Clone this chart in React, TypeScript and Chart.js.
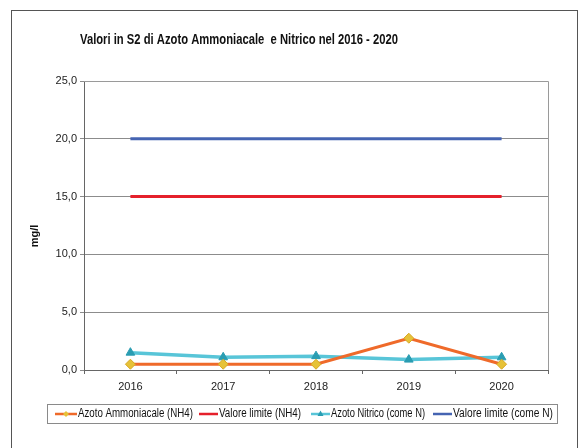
import React, { useEffect, useRef } from "react";
import { Chart, registerables } from "chart.js";

Chart.register(...registerables);

const categories = ["2016", "2017", "2018", "2019", "2020"];
const azotoAmmoniacale = [0.5, 0.5, 0.5, 2.75, 0.5];
const limiteNH4 = [15, 15, 15, 15, 15];
const azotoNitrico = [1.5, 1.1, 1.2, 0.9, 1.1];
const limiteN = [20, 20, 20, 20, 20];
const seriesNames = [
  "Azoto Ammoniacale (NH4)",
  "Valore limite (NH4)",
  "Azoto Nitrico (come N)",
  "Valore limite (come N)",
];
const titleText = "Valori in S2 di Azoto Ammoniacale  e Nitrico nel 2016 - 2020";
const yTitle = "mg/l";
const yMin = 0;
const yMax = 25;
const yStep = 5;

const FONT = '"Liberation Sans", Arial, sans-serif';
const C_ORANGE = "#EF6A2A";
const C_YELLOW = "#E6C238";
const C_RED = "#E5202B";
const C_CYAN = "#58C5D8";
const C_TEAL = "#2A9DB2";
const C_BLUE = "#4564B2";

export default function App() {
  const ref = useRef<HTMLCanvasElement | null>(null);

  useEffect(() => {
    const canvas = ref.current;
    if (!canvas) return;

    const decor = {
      id: "decor",
      beforeDraw(chart: any) {
        const ctx = chart.ctx;
        ctx.save();
        ctx.fillStyle = "#ffffff";
        ctx.fillRect(0, 0, chart.width, chart.height);
        ctx.strokeStyle = "#555555";
        ctx.lineWidth = 1;
        ctx.strokeRect(11.5, 10.5, 566, 460);
        ctx.restore();
      },
      beforeDatasetsDraw(chart: any) {
        const ctx = chart.ctx;
        const a = chart.chartArea;
        ctx.save();
        ctx.strokeStyle = "#9a9a9a";
        ctx.lineWidth = 1;
        ctx.beginPath();
        ctx.moveTo(a.left, Math.round(a.top) + 0.5);
        ctx.lineTo(Math.round(a.right) + 0.5, Math.round(a.top) + 0.5);
        ctx.lineTo(Math.round(a.right) + 0.5, a.bottom);
        ctx.stroke();
        ctx.restore();
      },
      afterDraw(chart: any) {
        const ctx = chart.ctx;
        ctx.save();
        // title
        ctx.fillStyle = "#111111";
        ctx.font = `bold 15px ${FONT}`;
        ctx.textBaseline = "middle";
        ctx.textAlign = "left";
        ctx.fillText(titleText, 80, 40, 318);
        // y title
        ctx.save();
        ctx.translate(35, 236);
        ctx.rotate(-Math.PI / 2);
        ctx.textAlign = "center";
        ctx.font = `bold 11px ${FONT}`;
        ctx.fillText(yTitle, 0, 0);
        ctx.restore();
        // legend box
        ctx.fillStyle = "#ffffff";
        ctx.fillRect(47, 404, 510, 19);
        ctx.strokeStyle = "#8a8a8a";
        ctx.lineWidth = 1;
        ctx.strokeRect(47.5, 404.5, 510, 19);
        const items = [
          { x0: 55, x1: 77, tx: 78, tw: 115, color: C_ORANGE, marker: "diamond" },
          { x0: 199, x1: 218, tx: 219, tw: 82, color: C_RED, marker: "" },
          { x0: 311, x1: 330, tx: 331, tw: 94, color: C_CYAN, marker: "triangle" },
          { x0: 433, x1: 452, tx: 453, tw: 100, color: C_BLUE, marker: "" },
        ];
        const ly = 414;
        items.forEach((it, i) => {
          ctx.strokeStyle = it.color;
          ctx.lineWidth = 2.5;
          ctx.beginPath();
          ctx.moveTo(it.x0, ly);
          ctx.lineTo(it.x1, ly);
          ctx.stroke();
          const cx = (it.x0 + it.x1) / 2;
          if (it.marker === "diamond") {
            ctx.fillStyle = C_YELLOW;
            ctx.beginPath();
            ctx.moveTo(cx, ly - 3);
            ctx.lineTo(cx + 3, ly);
            ctx.lineTo(cx, ly + 3);
            ctx.lineTo(cx - 3, ly);
            ctx.closePath();
            ctx.fill();
          } else if (it.marker === "triangle") {
            ctx.fillStyle = C_TEAL;
            ctx.beginPath();
            ctx.moveTo(cx, ly - 3.5);
            ctx.lineTo(cx + 3, ly + 2);
            ctx.lineTo(cx - 3, ly + 2);
            ctx.closePath();
            ctx.fill();
          }
          ctx.fillStyle = "#111111";
          ctx.font = `12px ${FONT}`;
          ctx.textAlign = "left";
          ctx.textBaseline = "middle";
          ctx.fillText(seriesNames[i], it.tx, ly, it.tw);
        });
        ctx.restore();
      },
    };

    const chart = new Chart(canvas, {
      type: "line",
      data: {
        labels: categories,
        datasets: [
          {
            label: seriesNames[0],
            data: azotoAmmoniacale,
            borderColor: C_ORANGE,
            borderWidth: 3,
            pointStyle: "rectRot",
            pointRadius: 5,
            pointBackgroundColor: C_YELLOW,
            pointBorderColor: "#D8A826",
            pointBorderWidth: 1,
            order: 1,
          },
          {
            label: seriesNames[1],
            data: limiteNH4,
            borderColor: C_RED,
            borderWidth: 3,
            pointRadius: 0,
            order: 3,
          },
          {
            label: seriesNames[2],
            data: azotoNitrico,
            borderColor: C_CYAN,
            borderWidth: 3.5,
            pointStyle: "triangle",
            pointRadius: 5,
            pointBackgroundColor: C_TEAL,
            pointBorderColor: C_TEAL,
            pointBorderWidth: 1,
            order: 2,
          },
          {
            label: seriesNames[3],
            data: limiteN,
            borderColor: C_BLUE,
            borderWidth: 3,
            pointRadius: 0,
            order: 4,
          },
        ],
      },
      options: {
        responsive: false,
        animation: false,
        layout: { padding: { top: 81, right: 32, left: 0, bottom: 0 } },
        plugins: {
          legend: { display: false },
          title: { display: false },
          tooltip: { enabled: false },
        },
        scales: {
          x: {
            type: "category",
            offset: true,
            grid: {
              drawOnChartArea: false,
              offset: true,
              tickLength: 4,
              color: "#666666",
            },
            border: { color: "#666666", width: 1 },
            ticks: {
              color: "#222222",
              font: { family: FONT, size: 11 },
              padding: 6,
              maxRotation: 0,
            },
            afterFit: (s: any) => {
              s.height = 78;
            },
          },
          y: {
            min: yMin,
            max: yMax,
            grid: { color: "#8c8c8c", tickLength: 4 },
            border: { color: "#666666", width: 1 },
            ticks: {
              stepSize: yStep,
              color: "#222222",
              font: { family: FONT, size: 11 },
              padding: 3,
              callback: (v: any) => Number(v).toFixed(1).replace(".", ","),
            },
            afterFit: (s: any) => {
              s.width = 84;
            },
          },
        },
      },
      plugins: [decor],
    });

    return () => chart.destroy();
  }, []);

  return (
    <div style={{ position: "fixed", left: 0, top: 0, width: 580, height: 448 }}>
      <canvas ref={ref} width={580} height={448} style={{ display: "block" }} />
    </div>
  );
}
